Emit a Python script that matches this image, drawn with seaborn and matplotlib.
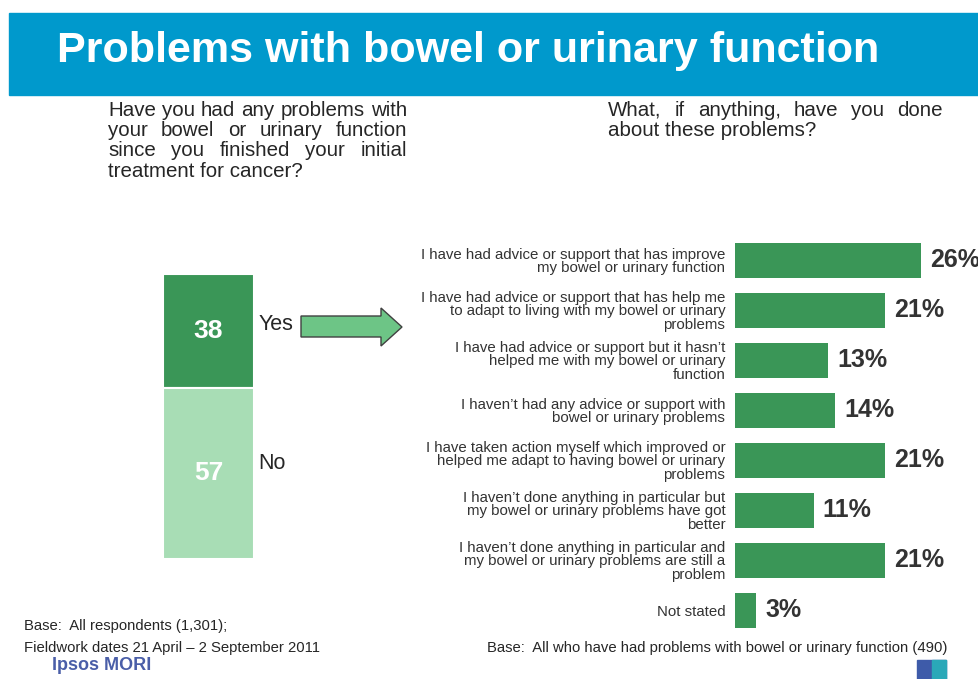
import matplotlib
matplotlib.use('Agg')
import matplotlib.pyplot as plt
from matplotlib.patches import Rectangle, Polygon
import seaborn as sns

# left panel: any problems since treatment
answer_labels = ['Yes', 'No']
answer_values = [38, 57]
answer_colors = ['#3A9657', '#A8DDB5']

# right panel: what has been done about it (% of those with problems)
action_labels = [
    "I have had advice or support that has improve\nmy bowel or urinary function",
    "I have had advice or support that has help me\nto adapt to living with my bowel or urinary\nproblems",
    "I have had advice or support but it hasn\u2019t\nhelped me with my bowel or urinary\nfunction",
    "I haven\u2019t had any advice or support with\nbowel or urinary problems",
    "I have taken action myself which improved or\nhelped me adapt to having bowel or urinary\nproblems",
    "I haven\u2019t done anything in particular but\nmy bowel or urinary problems have got\nbetter",
    "I haven\u2019t done anything in particular and\nmy bowel or urinary problems are still a\nproblem",
    "Not stated",
]
action_values = [26, 21, 13, 14, 21, 11, 21, 3]

title = "Problems with bowel or urinary function"
left_question = ["Have you had any problems with", "your bowel or urinary function",
                 "since you finished your initial", "treatment for cancer?"]
right_question = ["What, if anything, have you done", "about these problems?"]

sns.set_style('white')
plt.rcParams['font.family'] = ['Liberation Sans', 'DejaVu Sans']

W, H = 979, 679
fig = plt.figure(figsize=(W / 100, H / 100), dpi=100)
fig.patch.set_facecolor('white')


def fx(x):
    return x / W


def fy(y):
    return 1 - y / H


# header banner
fig.patches.append(Rectangle((fx(9), fy(95)), fx(979) - fx(9), 82 / H,
                             transform=fig.transFigure, color='#0099CC', zorder=0))
fig.text(fx(57), fy(51), title, color='white', fontsize=31.1, weight='bold', va='center')


def justified(lines, x0, x1, y0, pitch, **kw):
    # poor man's justified paragraph: spread words over the line width
    renderer = fig.canvas.get_renderer()
    for i, line in enumerate(lines):
        y = fy(y0 + i * pitch)
        words = line.split()
        if i == len(lines) - 1:
            fig.text(fx(x0), y, line, va='center', **kw)
            continue
        texts = [fig.text(0, y, w, va='center', **kw) for w in words]
        widths = [t.get_window_extent(renderer).width for t in texts]
        gap = (x1 - x0 - sum(widths)) / (len(words) - 1)
        x = x0
        for t, w in zip(texts, widths):
            t.set_x(fx(x))
            x += w + gap


justified(left_question, 108, 407, 110, 20.4, fontsize=14.8, color='#262626')
justified(right_question, 608, 943, 110, 20.4, fontsize=14.8, color='#262626')

# left stacked bar
ax_l = fig.add_axes([fx(163), fy(559), 91 / W, 285 / H])
bottom = sum(answer_values)
for lab, val, col in zip(answer_labels, answer_values, answer_colors):
    bottom -= val
    ax_l.bar(0, val, bottom=bottom, width=1.0, color=col, edgecolor='white', linewidth=1.5)
    ax_l.text(0, bottom + val / 2, str(val), ha='center', va='center',
              color='white', fontsize=19, weight='bold')
    ax_l.text(0.55, bottom + val * 0.56, lab, ha='left', va='center',
              color='#262626', fontsize=15.5)
ax_l.set_xlim(-0.5, 0.5)
ax_l.set_ylim(0, sum(answer_values))
ax_l.axis('off')

# arrow from "Yes" to the follow-up question
arrow = Polygon([(fx(301), fy(316)), (fx(381), fy(316)), (fx(381), fy(308)), (fx(402), fy(327)),
                 (fx(381), fy(346)), (fx(381), fy(337)), (fx(301), fy(337))],
                closed=True, transform=fig.transFigure, facecolor='#6DC586',
                edgecolor='#404040', linewidth=1)
fig.patches.append(arrow)

# right horizontal bars
ax_r = fig.add_axes([fx(735), fy(635), (W - 735) / W, 400 / H])
sns.barplot(x=action_values, y=action_labels, orient='h', color='#3A9657',
            width=0.7, linewidth=0, saturation=1, ax=ax_r)
ax_r.set_xlim(0, (W - 735) / 7.15)
ax_r.set_ylim(7.5, -0.5)
ax_r.set_yticks(range(len(action_labels)))
ax_r.set_yticklabels(action_labels, fontsize=10.8, color='#333333', linespacing=0.95)
ax_r.tick_params(axis='y', length=0, pad=7)
ax_r.set_xticks([])
ax_r.set_xlabel('')
ax_r.set_ylabel('')
sns.despine(ax=ax_r, left=True, bottom=True)
ax_r.bar_label(ax_r.containers[0], labels=[f'{v}%' for v in action_values],
               padding=6.5, fontsize=18, weight='bold', color='#333333')

# footer
fig.text(fx(24), fy(626), "Base:  All respondents (1,301);", fontsize=10.7,
         color='#262626', va='center')
fig.text(fx(24), fy(648), "Fieldwork dates 21 April \u2013 2 September 2011", fontsize=10.7,
         color='#262626', va='center')
fig.text(fx(947), fy(648), "Base:  All who have had problems with bowel or urinary function (490)",
         fontsize=10.7, color='#262626', va='center', ha='right')
fig.text(fx(52), fy(666), "Ipsos MORI", fontsize=13, weight='bold', color='#4A5EA8', va='center')
fig.patches.append(Rectangle((fx(917), fy(679)), 29 / W, 19 / H, transform=fig.transFigure,
                             color='#3E5BA9'))
fig.patches.append(Rectangle((fx(932), fy(679)), 14 / W, 19 / H, transform=fig.transFigure,
                             color='#2AA8B8'))

fig.savefig('out.png', dpi=100)
